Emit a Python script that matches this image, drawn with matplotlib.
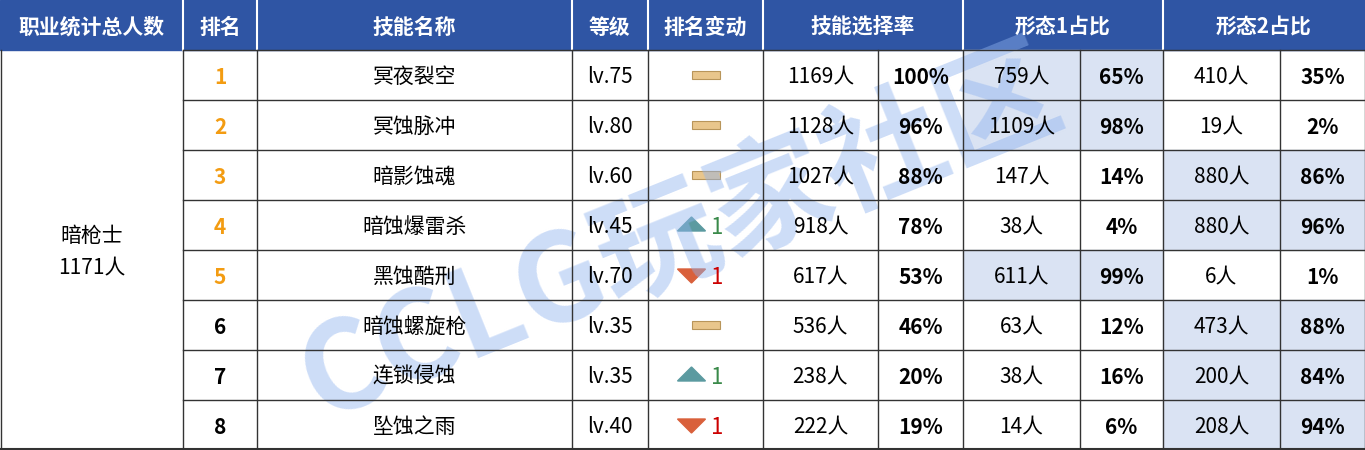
import matplotlib.pyplot as plt
from matplotlib.patches import Rectangle, Polygon

plt.rcParams['font.family'] = ['Noto Sans CJK SC', 'DejaVu Sans']

headers = ["职业统计总人数", "排名", "技能名称", "等级", "排名变动", "技能选择率", "形态1占比", "形态2占比"]
job_name = "暗枪士"
job_total = "1171人"
ranks = [1, 2, 3, 4, 5, 6, 7, 8]
skills = ["冥夜裂空", "冥蚀脉冲", "暗影蚀魂", "暗蚀爆雷杀", "黑蚀酷刑", "暗蚀螺旋枪", "连锁侵蚀", "坠蚀之雨"]
levels = [75, 80, 60, 45, 70, 35, 35, 40]
changes = [0, 0, 0, 1, -1, 0, 1, -1]
pick_count = [1169, 1128, 1027, 918, 617, 536, 238, 222]
pick_pct = [100, 96, 88, 78, 53, 46, 20, 19]
f1_count = [759, 1109, 147, 38, 611, 63, 38, 14]
f1_pct = [65, 98, 14, 4, 99, 12, 16, 6]
f2_count = [410, 19, 880, 880, 6, 473, 200, 208]
f2_pct = [35, 2, 86, 96, 1, 88, 84, 94]

cols = [0, 183, 257, 572, 648, 763, 878, 963, 1080, 1163, 1280, 1365]
head_h = 50
row_h = 50
W, H = 1365, 450

fig = plt.figure(figsize=(W / 100, H / 100), dpi=100)
ax = fig.add_axes([0, 0, 1, 1])
ax.set_xlim(0, W)
ax.set_ylim(H, 0)
ax.axis('off')

blue = '#2f55a4'
hl = '#dae3f3'
fs = 15
dy = 2

# header
ax.add_patch(Rectangle((0, 0), W, head_h, color=blue, zorder=1))
head_spans = [(0, 1), (1, 2), (2, 3), (3, 4), (4, 5), (5, 7), (7, 9), (9, 11)]
for h, (a, b) in zip(headers, head_spans):
    ax.text((cols[a] + cols[b]) / 2, head_h / 2 + dy, h, color='white', fontsize=fs,
            fontweight='bold', ha='center', va='center', zorder=6)
    if a > 0:
        ax.plot([cols[a], cols[a]], [0, head_h], color='white', lw=1.5, zorder=2)

# highlight cells
for i in range(8):
    y = head_h + i * row_h
    if f1_pct[i] > f2_pct[i]:
        ax.add_patch(Rectangle((cols[7], y), cols[9] - cols[7], row_h, color=hl, zorder=1))
    else:
        ax.add_patch(Rectangle((cols[9], y), cols[11] - cols[9], row_h, color=hl, zorder=1))

# grid
for i in range(9):
    y = head_h + i * row_h
    ax.plot([cols[1], W], [y, y], color='#333333', lw=1, zorder=5)
ax.plot([0, W], [H - 1, H - 1], color='#333333', lw=1.5, zorder=5)
for c in cols[1:]:
    ax.plot([c, c], [head_h, H], color='#333333', lw=1, zorder=5)
ax.plot([1, 1], [head_h, H], color='#333333', lw=1, zorder=5)

ax.text(cols[1] / 2, head_h + 4 * row_h + dy, job_name + "\n" + job_total, fontsize=fs,
        ha='center', va='center', linespacing=1.6, zorder=6)

for i in range(8):
    yc = head_h + i * row_h + row_h / 2
    mid = lambda k: (cols[k] + cols[k + 1]) / 2
    rc = '#f39c12' if ranks[i] <= 5 else 'black'
    ax.text(mid(1), yc + dy, str(ranks[i]), color=rc, fontsize=fs, fontweight='bold',
            ha='center', va='center', zorder=6)
    ax.text(mid(2), yc + dy, skills[i], fontsize=fs, ha='center', va='center', zorder=6)
    ax.text(mid(3), yc + dy, f"lv.{levels[i]}", fontsize=fs, ha='center', va='center', zorder=6)
    cx = mid(4)
    if changes[i] == 0:
        ax.add_patch(Rectangle((cx - 14, yc - 4), 28, 8, facecolor='#e9c68c',
                               edgecolor='#b8955a', lw=0.8, zorder=3))
    elif changes[i] > 0:
        ax.add_patch(Polygon([(cx - 28, yc + 6), (cx - 14, yc - 8), (cx, yc + 6)],
                             color='#5b9aa0', zorder=3))
        ax.text(cx + 12, yc + dy, str(changes[i]), color='#3a8a4a', fontsize=fs + 1,
                ha='center', va='center', zorder=6)
    else:
        ax.add_patch(Polygon([(cx - 28, yc - 6), (cx - 14, yc + 8), (cx, yc - 6)],
                             color='#d9603b', zorder=3))
        ax.text(cx + 12, yc + dy, str(-changes[i]), color='#cc0000', fontsize=fs + 1,
                ha='center', va='center', zorder=6)
    vals = [(f"{pick_count[i]}人", False), (f"{pick_pct[i]}%", True),
            (f"{f1_count[i]}人", False), (f"{f1_pct[i]}%", True),
            (f"{f2_count[i]}人", False), (f"{f2_pct[i]}%", True)]
    for k, (t, bold) in enumerate(vals):
        ax.text(mid(5 + k), yc + dy, t, fontsize=fs, fontweight='bold' if bold else 'normal',
                ha='center', va='center', zorder=6)

# watermark
ax.text(680, 235, "CCLG玩家社区", fontsize=88, fontweight='bold', color='#8fb3ef',
        alpha=0.45, rotation=22, ha='center', va='center', zorder=4)

fig.savefig('out.png', dpi=100)
